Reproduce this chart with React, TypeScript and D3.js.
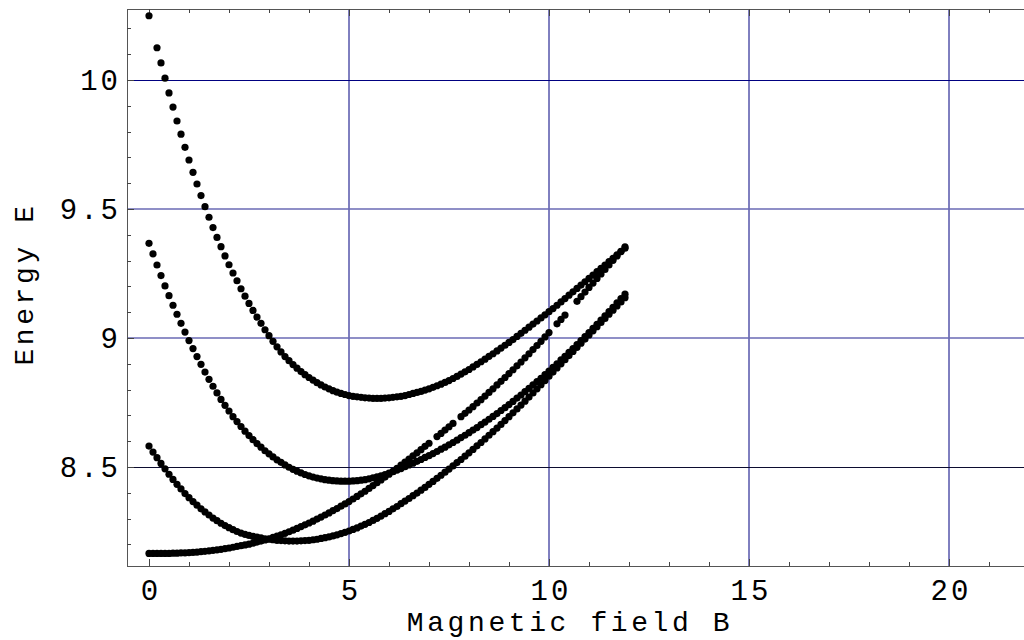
import { useEffect, useRef } from "react"
import * as d3 from "d3"

// magnetic field B at every computed point
const fieldB = [
  0, 0.1, 0.2, 0.3, 0.4, 0.5, 0.6, 0.7, 0.8, 0.9,
  1, 1.1, 1.2, 1.3, 1.4, 1.5, 1.6, 1.7, 1.8, 1.9,
  2, 2.1, 2.2, 2.3, 2.4, 2.5, 2.6, 2.7, 2.8, 2.9,
  3, 3.1, 3.2, 3.3, 3.4, 3.5, 3.6, 3.7, 3.8, 3.9,
  4, 4.1, 4.2, 4.3, 4.4, 4.5, 4.6, 4.7, 4.8, 4.9,
  5, 5.1, 5.2, 5.3, 5.4, 5.5, 5.6, 5.7, 5.8, 5.9,
  6, 6.1, 6.2, 6.3, 6.4, 6.5, 6.6, 6.7, 6.8, 6.9,
  7, 7.1, 7.2, 7.3, 7.4, 7.5, 7.6, 7.7, 7.8, 7.9,
  8, 8.1, 8.2, 8.3, 8.4, 8.5, 8.6, 8.7, 8.8, 8.9,
  9, 9.1, 9.2, 9.3, 9.4, 9.5, 9.6, 9.7, 9.8, 9.9,
  10, 10.1, 10.2, 10.3, 10.4, 10.5, 10.6, 10.7, 10.8, 10.9,
  11, 11.1, 11.2, 11.3, 11.4, 11.5, 11.6, 11.7, 11.8, 11.9,
]

// energy levels (null = point missing)
const level1 = [
  10.249, null, 10.125, 10.066, 10.007, 9.950, 9.895, 9.841, 9.790, 9.739,
  9.690, 9.642, 9.597, 9.552, 9.509, 9.468, 9.428, 9.390, 9.354, 9.318,
  9.284, 9.252, 9.222, 9.191, 9.162, 9.134, 9.107, 9.081, 9.057, 9.032,
  9.009, 8.987, 8.966, 8.946, 8.928, 8.912, 8.897, 8.883, 8.870, 8.858,
  8.847, 8.837, 8.827, 8.818, 8.810, 8.803, 8.796, 8.790, 8.785, 8.781,
  8.777, 8.774, 8.772, 8.770, 8.768, 8.767, 8.766, 8.766, 8.766, 8.767,
  8.768, 8.770, 8.772, 8.774, 8.777, 8.781, 8.785, 8.789, 8.793, 8.798,
  8.803, 8.809, 8.815, 8.821, 8.828, 8.835, 8.843, 8.851, 8.860, 8.869,
  8.878, 8.888, 8.898, 8.908, 8.918, 8.929, 8.939, 8.950, 8.961, 8.972,
  8.983, 8.994, 9.006, 9.018, 9.030, 9.042, 9.054, 9.066, 9.078, 9.090,
  9.102, 9.114, 9.127, 9.140, 9.153, 9.166, 9.179, 9.192, 9.205, 9.218,
  9.231, 9.244, 9.257, 9.270, 9.283, 9.296, 9.309, 9.322, 9.335, 9.348,
]

const level2 = [
  9.367, 9.326, 9.283, 9.242, 9.202, 9.164, 9.127, 9.092, 9.057, 9.023,
  8.990, 8.959, 8.928, 8.898, 8.868, 8.840, 8.813, 8.787, 8.762, 8.739,
  8.717, 8.695, 8.676, 8.657, 8.639, 8.622, 8.606, 8.591, 8.577, 8.563,
  8.551, 8.539, 8.528, 8.518, 8.508, 8.499, 8.491, 8.484, 8.477, 8.471,
  8.466, 8.461, 8.457, 8.454, 8.451, 8.449, 8.447, 8.446, 8.445, 8.445,
  8.445, 8.446, 8.447, 8.449, 8.451, 8.454, 8.458, 8.462, 8.466, 8.471,
  8.476, 8.482, 8.488, 8.494, 8.501, 8.508, 8.515, 8.522, 8.529, 8.537,
  8.544, 8.552, 8.560, 8.569, 8.577, 8.586, 8.595, 8.604, 8.614, 8.623,
  8.633, 8.643, 8.653, 8.664, 8.674, 8.685, 8.696, 8.707, 8.719, 8.730,
  8.742, 8.754, 8.767, 8.779, 8.792, 8.805, 8.818, 8.831, 8.844, 8.858,
  8.872, 8.886, 8.900, 8.915, 8.929, 8.944, 8.959, 8.974, 8.990, 9.005,
  9.021, 9.037, 9.053, 9.069, 9.086, 9.102, 9.119, 9.136, 9.153, 9.170,
]

const level3 = [
  8.581, 8.558, 8.536, 8.514, 8.493, 8.472, 8.452, 8.433, 8.415, 8.397,
  8.381, 8.366, 8.352, 8.338, 8.326, 8.314, 8.302, 8.292, 8.282, 8.273,
  8.265, 8.257, 8.250, 8.244, 8.239, 8.235, 8.231, 8.228, 8.225, 8.222,
  8.220, 8.218, 8.216, 8.215, 8.214, 8.213, 8.213, 8.213, 8.214, 8.215,
  8.216, 8.218, 8.220, 8.223, 8.226, 8.229, 8.233, 8.237, 8.242, 8.247,
  8.252, 8.258, 8.264, 8.271, 8.278, 8.285, 8.293, 8.301, 8.310, 8.319,
  8.328, 8.338, 8.347, 8.358, 8.368, 8.378, 8.389, 8.399, 8.410, 8.421,
  8.433, 8.444, 8.456, 8.468, 8.480, 8.492, 8.504, 8.517, 8.529, 8.542,
  8.555, 8.568, 8.582, 8.595, 8.609, 8.623, 8.637, 8.651, 8.665, 8.680,
  8.695, 8.710, 8.725, 8.740, 8.755, 8.771, 8.787, 8.803, 8.819, 8.835,
  8.852, 8.868, 8.884, 8.900, 8.916, 8.932, 8.948, 8.964, 8.980, 8.996,
  9.012, 9.028, 9.044, 9.060, 9.076, 9.092, 9.108, 9.124, 9.140, 9.156,
]

const level4 = [
  8.165, 8.165, 8.165, 8.165, 8.165, 8.165, 8.166, 8.166, 8.167, 8.167,
  8.168, 8.169, 8.170, 8.172, 8.173, 8.175, 8.177, 8.179, 8.181, 8.184,
  8.186, 8.189, 8.192, 8.195, 8.198, 8.201, 8.205, 8.209, 8.213, 8.217,
  8.222, 8.227, 8.232, 8.237, 8.243, 8.249, 8.255, 8.262, 8.269, 8.276,
  8.283, 8.290, 8.298, 8.306, 8.314, 8.322, 8.331, 8.339, 8.348, 8.357,
  8.366, 8.376, 8.386, 8.396, 8.406, 8.417, 8.428, 8.439, 8.450, 8.461,
  8.472, 8.483, 8.495, 8.507, 8.519, 8.531, 8.543, 8.555, 8.567, 8.580,
  8.592, null, 8.618, 8.630, 8.643, 8.656, 8.669, null, 8.695, 8.708,
  8.721, 8.734, 8.748, 8.761, 8.775, 8.789, 8.803, 8.818, 8.832, 8.847,
  8.862, 8.877, 8.892, 8.907, 8.923, 8.939, 8.955, 8.971, 8.987, 9.004,
  9.021, null, 9.055, 9.072, 9.089, null, null, 9.142, 9.160, 9.178,
  9.196, 9.213, 9.231, 9.248, 9.266, 9.283, 9.301, 9.318, 9.336, 9.353,
]

const levels = [level1, level2, level3, level4]

// axes
const xMajorTicks = [0, 5, 10, 15, 20]
const xMajorLabels = ["0", "5", "10", "15", "20"]
const xMinorTicks = [1, 2, 3, 4, 6, 7, 8, 9, 11, 12, 13, 14, 16, 17, 18, 19, 21]
const yMajorTicks = [8.5, 9, 9.5, 10]
const yMajorLabels = ["8.5", "9", "9.5", "10"]
const yMinorTicks = [8.2, 8.3, 8.4, 8.6, 8.7, 8.8, 8.9, 9.1, 9.2, 9.3, 9.4, 9.6, 9.7, 9.8, 9.9, 10.1, 10.2]
const xGrid = [5, 10, 15, 20]
const yGrid = [8.5, 9, 9.5, 10]

const xLabel = "Magnetic field B"
const yLabel = "Energy E"

const W = 1024
const H = 640
const FONT = "'Liberation Mono', 'DejaVu Sans Mono', monospace"

// horizontal grid line colours, as the reference renders them
const hGridColor = (v: number) => {
  if (v === 8.5) return "#0c0c30"
  if (v === 10) return "#000080"
  return "#6a6ab4"
}

const App = () => {
  const svgRef = useRef<SVGSVGElement>(null)

  useEffect(() => {
    const svg = d3.select(svgRef.current)
    svg.selectAll("*").remove()

    const left = 127
    const right = 1027
    const top = 9
    const bottom = 566

    const x = d3.scaleLinear().domain([-0.55, 21.95]).range([left, right])
    const y = d3.scaleLinear().domain([8.1163, 10.2752]).range([bottom, top])

    // grid lines
    svg.append("g")
      .selectAll("line")
      .data(xGrid)
      .join("line")
      .attr("x1", d => x(d)).attr("x2", d => x(d))
      .attr("y1", top).attr("y2", bottom)
      .attr("stroke", "#000080")
      .attr("stroke-width", 1)

    svg.append("g")
      .selectAll("line")
      .data(yGrid)
      .join("line")
      .attr("x1", left).attr("x2", right)
      .attr("y1", d => y(d)).attr("y2", d => y(d))
      .attr("stroke", d => hGridColor(d))
      .attr("stroke-width", d => (d === 9 || d === 9.5 ? 1.6 : 1))
      .attr("shape-rendering", d => (d === 9 || d === 9.5 ? "auto" : "crispEdges"))

    // frame
    const frame = svg.append("g")
      .attr("stroke", "#555")
      .attr("stroke-width", 1)
      .attr("shape-rendering", "crispEdges")
    frame.append("line").attr("x1", left).attr("x2", right).attr("y1", top).attr("y2", top)
    frame.append("line").attr("x1", left).attr("x2", right).attr("y1", bottom).attr("y2", bottom)
    frame.append("line").attr("x1", left).attr("x2", left).attr("y1", top).attr("y2", bottom)

    const styleAxis = (g: any) => {
      g.select(".domain").remove()
      g.selectAll("line").attr("stroke", "#444").attr("shape-rendering", "crispEdges")
      g.selectAll("text")
        .attr("font-family", FONT)
        .attr("font-size", 29)
        .attr("letter-spacing", 3)
        .attr("fill", "#000")
    }

    // bottom axis, ticks point inward
    svg.append("g")
      .attr("transform", `translate(0,${bottom})`)
      .call(d3.axisBottom(x).tickValues(xMinorTicks).tickSize(-4).tickFormat(() => ""))
      .call(styleAxis)
    svg.append("g")
      .attr("transform", `translate(0,${bottom})`)
      .call(d3.axisBottom(x).tickValues(xMajorTicks).tickSize(-7).tickPadding(13)
        .tickFormat((_d, i) => xMajorLabels[i]))
      .call(styleAxis)
      .call(g => g.selectAll("text").attr("dx", 1.5))

    // top frame ticks
    svg.append("g")
      .attr("transform", `translate(0,${top})`)
      .call(d3.axisTop(x).tickValues(xMinorTicks).tickSize(-4).tickFormat(() => ""))
      .call(styleAxis)
    svg.append("g")
      .attr("transform", `translate(0,${top})`)
      .call(d3.axisTop(x).tickValues(xMajorTicks).tickSize(-7).tickFormat(() => ""))
      .call(styleAxis)

    // left axis
    svg.append("g")
      .attr("transform", `translate(${left},0)`)
      .call(d3.axisLeft(y).tickValues(yMinorTicks).tickSize(-4).tickFormat(() => ""))
      .call(styleAxis)
    svg.append("g")
      .attr("transform", `translate(${left},0)`)
      .call(d3.axisLeft(y).tickValues(yMajorTicks).tickSize(-7).tickPadding(6)
        .tickFormat((_d, i) => yMajorLabels[i]))
      .call(styleAxis)

    // axis titles
    svg.append("text")
      .attr("x", 570)
      .attr("y", 631)
      .attr("text-anchor", "middle")
      .attr("font-family", FONT)
      .attr("font-size", 28)
      .attr("letter-spacing", 3.6)
      .text(xLabel)

    svg.append("text")
      .attr("transform", "translate(33,284) rotate(-90)")
      .attr("text-anchor", "middle")
      .attr("font-family", FONT)
      .attr("font-size", 28)
      .attr("letter-spacing", 3.6)
      .text(yLabel)

    // the computed points
    const points = levels.flatMap(level =>
      fieldB
        .map((b, i) => ({ b, e: level[i] }))
        .filter(p => p.e !== null)
    )

    svg.append("g")
      .selectAll("circle")
      .data(points)
      .join("circle")
      .attr("cx", d => x(d.b))
      .attr("cy", d => y(d.e as number))
      .attr("r", 3.6)
      .attr("fill", "#000")
  }, [])

  return (
    <svg
      ref={svgRef}
      width={W}
      height={H}
      style={{ position: "absolute", left: 0, top: 0, background: "#fff", display: "block" }}
    />
  )
}

export default App
